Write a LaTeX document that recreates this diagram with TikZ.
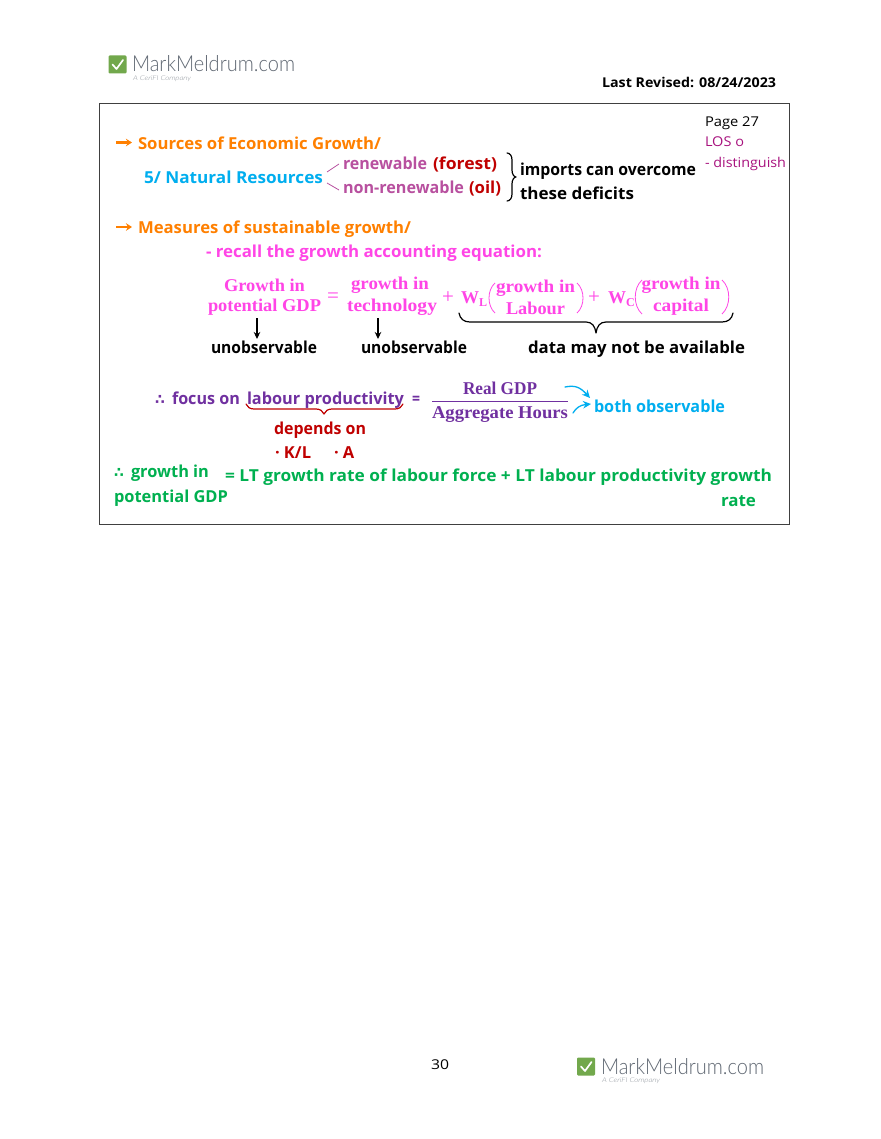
\documentclass[tikz,border=0pt]{standalone}
\usepackage{fontspec}
\usepackage{graphicx}
\usetikzlibrary{arrows.meta}
\setmainfont{Open Sans}
\newfontfamily\sym{DejaVu Sans}
\newfontfamily\eqf{Liberation Serif}
\newfontfamily\logof{Lato Light}
\newcommand\fit[2]{\resizebox{#1pt}{\height}{#2}}
\definecolor{cOrange}{HTML}{FF8000}
\definecolor{cCyan}{HTML}{00AEEF}
\definecolor{cMag}{HTML}{FF45E6}
\definecolor{cMauve}{HTML}{B8509F}
\definecolor{cRed}{HTML}{C00000}
\definecolor{cPurple}{HTML}{7030A0}
\definecolor{cGreen}{HTML}{00B050}
\definecolor{cLos}{HTML}{A8127E}
\definecolor{cLogo}{HTML}{72A84C}
\definecolor{cLogoT}{HTML}{5F6772}
\tikzset{
  txt/.style={anchor=base west,inner sep=0pt,outer sep=0pt},
  hw/.style={txt,yshift=-1pt,font=\bfseries\fontsize{16.5}{20}\selectfont},
  hws/.style={txt,yshift=-1pt,font=\fontsize{13.5}{16}\selectfont},
  eq/.style={anchor=base,inner sep=0pt,outer sep=0pt,text=cMag,font=\eqf\bfseries\fontsize{18}{20}\selectfont},
  eqop/.style={anchor=base,inner sep=0pt,outer sep=0pt,text=cMag,font=\eqf\fontsize{21}{22}\selectfont},
  eqp/.style={eq,text=cPurple},
  logobox/.style={fill=cLogo,rounded corners=1.2pt,draw=none,minimum size=18pt,inner sep=0pt},
  logot/.style={txt,text=cLogoT,font=\logof\fontsize{22}{24}\selectfont},
  logos/.style={txt,text=cLogoT!70,font=\logof\itshape\fontsize{6.5}{7}\selectfont},
  tick/.style={line width=1.7pt,white,line cap=round,line join=round},
  harrow/.style={line width=2.2pt,-{Stealth[length=6pt,width=7.5pt]}},
  blk/.style={line width=1.1pt,-{Stealth[length=7pt,width=6.5pt]}},
  blu/.style={line width=1.3pt,cCyan,line cap=round,-{Stealth[length=8pt,width=7.5pt]}},
  brc/.style={line width=1.2pt,line cap=round,line join=round},
  thin1/.style={line width=.8pt},
  paren/.style={line width=.8pt,cMag}
}
\begin{document}
\begin{tikzpicture}[x=1pt,y=-1pt]
\useasboundingbox (0,0) rectangle (880,1139);
\fill[white] (0,0) rectangle (880,1139);
% logos
\node[logobox] (lg1) at (117.5,64.5) {};
\draw[tick] (112.5,64.5) -- (116.5,69) -- (123,60);
\node[logot] (lgt1) at (132,72) {\fit{163}{MarkMeldrum.com}};
\node[logos] (lgs1) at (133,80.5) {\fit{58}{A CeriFI Company}};
\node[logobox] (lg2) at (586,1066.5) {};
\draw[tick] (581,1066.5) -- (585,1071) -- (591.5,1062);
\node[logot] (lgt2) at (601,1074) {\fit{163}{MarkMeldrum.com}};
\node[logos] (lgs2) at (602,1082.5) {\fit{58}{A CeriFI Company}};
% header / footer
\node[txt,yshift=-.5pt,font=\bfseries\fontsize{13.5}{16}\selectfont] (rev) at (602,87) {\fit{174}{Last Revised: 08/24/2023}};
\node[txt,font=\fontsize{13.5}{16}\selectfont] (pg) at (431,1069) {\fit{18}{30}};
% frame
\draw[line width=1pt,black!75] (99,103.5) rectangle (789,524.5);
% right notes
\node[hws] (p27) at (705,126) {\fit{54}{Page 27}};
\node[hws,text=cLos] (los) at (705,146) {\fit{39}{LOS o}};
\node[hws,text=cLos] (dist) at (705,167) {\fit{81}{- distinguish}};
% sources
\coordinate (a1s) at (116,142.5); \coordinate (a1e) at (132,142.5);
\draw[harrow,cOrange] (a1s) -- (a1e);
\node[hw,text=cOrange] (src) at (138,149) {\fit{243}{Sources of Economic Growth/}};
\node[hw,text=cCyan] (nat) at (144,183) {\fit{179}{5/ Natural Resources}};
\node[hw,text=cMauve] (ren) at (343,169) {\fit{84}{renewable}};
\node[hw,text=cRed] (forest) at (433,169) {\fit{64}{(forest)}};
\node[hw,text=cMauve] (nren) at (343,193) {\fit{121}{non-renewable}};
\node[hw,text=cRed] (oil) at (469,193) {\fit{32}{(oil)}};
\coordinate (s1a) at (327,172); \coordinate (s1b) at (339,164);
\coordinate (s2a) at (327,183); \coordinate (s2b) at (339,190);
\draw[thin1,cMauve] (s1a) -- (s1b);
\draw[thin1,cMauve] (s2a) -- (s2b);
% right brace
\coordinate (r1) at (507,153); \coordinate (r2) at (512,160); \coordinate (r3) at (512,170);
\coordinate (r4) at (516,177); \coordinate (r5) at (512,184); \coordinate (r6) at (512,194); \coordinate (r7) at (507,201);
\draw[brc] (r1) .. controls (510,153) and (512,156) .. (r2) -- (r3) .. controls (512,174) and (514,177) .. (r4) .. controls (514,177) and (512,180) .. (r5) -- (r6) .. controls (512,198) and (510,201) .. (r7);
\node[hw] (imp) at (520,175) {\fit{176}{imports can overcome}};
\node[hw] (def) at (520,199) {\fit{114}{these deficits}};
% measures
\coordinate (a2s) at (116,227); \coordinate (a2e) at (132,227);
\draw[harrow,cOrange] (a2s) -- (a2e);
\node[hw,text=cOrange] (meas) at (138,233) {\fit{273}{Measures of sustainable growth/}};
\node[hw,text=cMag] (recall) at (206,257) {\fit{336}{- recall the growth accounting equation:}};
% equation
\node[eq] (g1) at (264.5,291) {\fit{81}{Growth in}};
\node[eq] (g2) at (264.5,311) {\fit{113}{potential GDP}};
\node[eqop] (eqs) at (333,302) {=};
\node[eq] (t1) at (390,290) {\fit{78}{growth in}};
\node[eq] (t2) at (392,311) {\fit{90}{technology}};
\node[eqop] (pl1) at (448,304) {+};
\node[eq,anchor=base west] (wl) at (461,304) {W\textsubscript{\fontsize{12}{12}\selectfont L}};
\node[eq] (l1) at (535.5,292) {\fit{79}{growth in}};
\node[eq] (l2) at (535.5,314) {\fit{59}{Labour}};
\node[eqop] (pl2) at (594,304) {+};
\node[eq,anchor=base west] (wc) at (608,304) {W\textsubscript{\fontsize{12}{12}\selectfont C}};
\node[eq] (c1) at (681,290) {\fit{79}{growth in}};
\node[eq] (c2) at (681,312) {\fit{56}{capital}};
% parentheses
\draw[paren] (495,283) .. controls (487,290) and (487,306) .. (495,313);
\draw[paren] (577,283) .. controls (585,290) and (585,306) .. (577,313);
\draw[paren] (642,280) .. controls (633,288) and (633,306) .. (642,314);
\draw[paren] (722,280) .. controls (731,288) and (731,306) .. (722,314);
% arrows
\coordinate (d1) at (257,339); \coordinate (d2) at (378,339);
\coordinate (u1) at (257,318); \coordinate (u2) at (378,318);
\draw[blk] (u1) -- (d1);
\draw[blk] (u2) -- (d2);
% long brace
\coordinate (b1) at (459,313); \coordinate (b2) at (470,322); \coordinate (b3) at (586,322);
\coordinate (b4) at (596,333); \coordinate (b5) at (606,322); \coordinate (b6) at (722,322); \coordinate (b7) at (733,313);
\draw[brc] (b1) .. controls (460,319) and (464,322) .. (b2) -- (b3) .. controls (592,322) and (595,326) .. (b4) .. controls (597,326) and (600,322) .. (b5) -- (b6) .. controls (728,322) and (732,319) .. (b7);
\node[hw] (un1) at (211,352) {\fit{106}{unobservable}};
\node[hw] (un2) at (361,352) {\fit{106}{unobservable}};
\node[hw] (dat) at (528,352) {\fit{217}{data may not be available}};
% labour productivity
\node[hw,text=cPurple,font=\sym\bfseries\fontsize{14}{16}\selectfont] (th1) at (155,403) {∴};
\node[hw,text=cPurple] (foc) at (172,403) {\fit{68}{focus on}};
\node[hw,text=cPurple] (lab) at (247,403) {\fit{157}{labour productivity}};
\node[hw,text=cPurple] (eq2) at (412,403) {\fit{8}{=}};
\node[eqp] (rg) at (500,394) {\fit{74}{Real GDP}};
\node[eqp] (ah) at (500,418) {\fit{136}{Aggregate Hours}};
\coordinate (fa) at (432,401); \coordinate (fb) at (568,401);
\draw[line width=.9pt,cPurple] (fa) -- (fb);
% red brace
\coordinate (q1) at (246,404); \coordinate (q2) at (254,409); \coordinate (q3) at (316,409);
\coordinate (q4) at (324,414); \coordinate (q5) at (332,409); \coordinate (q6) at (395,409); \coordinate (q7) at (403,404);
\draw[brc,cRed] (q1) .. controls (247,407) and (250,409) .. (q2) -- (q3) .. controls (320,409) and (323,411) .. (q4) .. controls (325,411) and (328,409) .. (q5) -- (q6) .. controls (399,409) and (402,407) .. (q7);
\node[hw,text=cCyan] (obs) at (594,411) {\fit{131}{both observable}};
\coordinate (ca) at (565,387); \coordinate (cb) at (590,398);
\coordinate (cc) at (573,413); \coordinate (cd) at (591,404);
\draw[blu] (ca) .. controls (575,385) and (580,387) .. (cb);
\draw[blu] (cc) .. controls (576,408) and (580,405) .. (cd);
\node[hw,text=cRed] (dep) at (274,433) {\fit{92}{depends on}};
\node[hw,text=cRed] (kl) at (275,457) {· K/L};
\node[hw,text=cRed] (ka) at (334,457) {· A};
% growth
\node[hw,text=cGreen,font=\sym\bfseries\fontsize{14}{16}\selectfont] (th2) at (114,476) {∴};
\node[hw,text=cGreen] (gi) at (131,476) {\fit{78}{growth in}};
\node[hw,text=cGreen] (lt) at (225,480) {\fit{547}{= LT growth rate of labour force + LT labour productivity growth}};
\node[hw,text=cGreen] (pot) at (114,501) {\fit{114}{potential GDP}};
\node[hw,text=cGreen] (rate) at (721,505) {\fit{35}{rate}};
\end{tikzpicture}
\end{document}
